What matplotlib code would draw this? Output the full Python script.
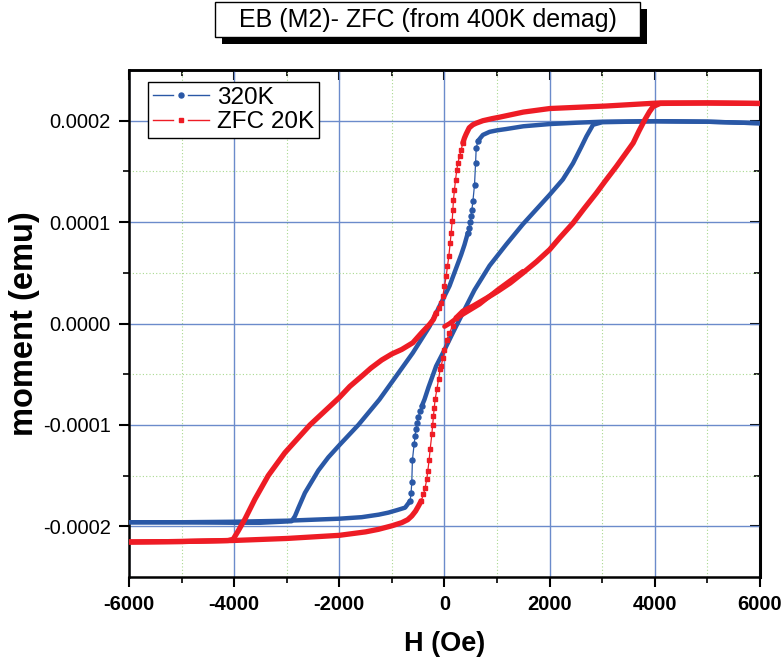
import numpy as np
import matplotlib
matplotlib.use("Agg")
import matplotlib.pyplot as plt
from matplotlib.lines import Line2D
from matplotlib.patches import Rectangle
from matplotlib.legend_handler import HandlerBase

plt.rcParams['font.family'] = ['Liberation Sans', 'DejaVu Sans']
plt.rcParams['axes.unicode_minus'] = False

# moment values below are in units of 1e-4 emu
M_UNIT = 1e-4

# ---- 320K (blue) ----
# descending branch: saturation -> knee
b_top_H = [6000, 5000, 4000, 3000, 2500, 2000, 1500, 1175, 1000, 857, 730, 667, 635]
b_top_M = [1.975, 1.99, 1.995, 1.99, 1.98, 1.967, 1.945, 1.918, 1.905, 1.89, 1.86, 1.82, 1.796]
# steep drop (separate points visible)
b_drop_H = [635, 603, 591, 571, 540, 521, 502, 489, 464, 444]
b_drop_M = [1.796, 1.731, 1.583, 1.369, 1.205, 1.123, 1.057, 0.998, 0.943, 0.894]
# rest of descending branch
b_desc_H = [444, 381, 318, 95, 0, -95, -286, -603, -920, -1238, -1638, -2000,
            -2210, -2400, -2550, -2654, -2780, -2844, -2908, -3500, -4000, -5000, -6000]
b_desc_M = [0.894, 0.778, 0.68, 0.37, 0.27, 0.17, -0.03, -0.29, -0.52, -0.75, -1.00, -1.20,
            -1.32, -1.45, -1.58, -1.67, -1.82, -1.90, -1.95, -1.965, -1.965, -1.96, -1.96]
# ascending branch
b_asc_H = [-6000, -5000, -4000, -3000, -2500, -2000, -1575, -1250, -1067, -900, -749, -654]
b_asc_M = [-1.96, -1.96, -1.955, -1.945, -1.935, -1.925, -1.91, -1.885, -1.865, -1.84, -1.816, -1.75]
b_rise_H = [-654, -635, -622, -610, -578, -559, -546, -521, -495, -464, -432]
b_rise_M = [-1.75, -1.668, -1.563, -1.346, -1.192, -1.11, -1.044, -0.979, -0.919, -0.864, -0.814]
b_asc2_H = [-432, -381, -305, -159, 0, 170, 349, 570, 857, 1175, 1492, 2000, 2250,
            2444, 2600, 2699, 2825, 3000, 4000, 5000, 6000]
b_asc2_M = [-0.814, -0.75, -0.63, -0.42, -0.26, -0.08, 0.105, 0.33, 0.57, 0.78, 0.98, 1.27, 1.42,
            1.58, 1.74, 1.845, 1.96, 1.985, 1.995, 1.99, 1.975]

# ---- ZFC 20K (red) ----
r_virgin_H = [0, 95, 222, 349, 476, 667, 1016, 1492]
r_virgin_M = [-0.03, 0.0, 0.05, 0.09, 0.13, 0.19, 0.335, 0.515]
r_top_H = [6000, 5000, 4100, 3905, 3080, 2000, 1500, 1048, 900, 730, 600, 539, 470, 413, 380, 349]
r_top_M = [2.17, 2.175, 2.175, 2.17, 2.145, 2.12, 2.085, 2.035, 2.02, 2.0, 1.975, 1.96, 1.93,
           1.87, 1.83, 1.78]
r_drop_H = [349, 318, 286, 254, 235, 210, 190, 171, 159, 146, 127, 108, 82, 57, 32, 0, -32, -63, -100, -159]
r_drop_M = [1.78, 1.714, 1.648, 1.583, 1.517, 1.419, 1.32, 1.222, 1.123, 1.008, 0.894, 0.795,
            0.663, 0.565, 0.466, 0.368, 0.27, 0.2, 0.15, 0.105]
r_desc_H = [-159, -210, -286, -432, -603, -813, -1000, -1194, -1400, -1575, -1800, -2000, -2558,
            -3035, -3352, -3606, -3797, -3924, -4019, -4115, -5000, -6000]
r_desc_M = [0.105, 0.04, -0.01, -0.09, -0.19, -0.256, -0.30, -0.36, -0.44, -0.52, -0.62, -0.73,
            -1.0, -1.274, -1.50, -1.733, -1.931, -2.046, -2.128, -2.14, -2.15, -2.155]
r_asc_H = [-6000, -5000, -4019, -3000, -2000, -1500, -1257, -1000, -813, -700, -622, -550, -495, -444]
r_asc_M = [-2.155, -2.15, -2.14, -2.12, -2.089, -2.055, -2.03, -1.995, -1.964, -1.935, -1.898,
           -1.85, -1.80, -1.75]
r_rise_H = [-444, -400, -368, -337, -318, -292, -273, -241, -225, -210, -195, -178, -145, -114,
            -83, -63, -30, 0, 44, 95, 160, 222]
r_rise_M = [-1.75, -1.685, -1.619, -1.537, -1.455, -1.346, -1.241, -1.094, -1.0, -0.913, -0.83,
            -0.749, -0.65, -0.552, -0.453, -0.42, -0.34, -0.26, -0.16, -0.09, -0.02, 0.056]
r_asc2_H = [222, 349, 540, 800, 1016, 1250, 1492, 1750, 2000, 2200, 2444, 2650, 2889, 3050, 3270,
            3450, 3588, 3700, 3810, 3900, 3969, 4100, 5000, 6000]
r_asc2_M = [0.056, 0.121, 0.171, 0.25, 0.319, 0.40, 0.499, 0.61, 0.729, 0.85, 0.99, 1.13, 1.287,
            1.40, 1.55, 1.68, 1.78, 1.90, 2.01, 2.09, 2.14, 2.17, 2.175, 2.17]

x_ticks = [-6000, -4000, -2000, 0, 2000, 4000, 6000]
x_minor = [-5000, -3000, -1000, 1000, 3000, 5000]
y_ticks = [-0.0002, -0.0001, 0.0, 0.0001, 0.0002]
y_labels = ['-0.0002', '-0.0001', '0.0000', '0.0001', '0.0002']
y_minor = [-0.00015, -0.00005, 0.00005, 0.00015]

BLUE = '#2a58a6'
RED = '#ee1c25'


class GapLineHandler(HandlerBase):
    # legend sample drawn as line - marker - line with small gaps
    def create_artists(self, legend, orig, xdescent, ydescent, width, height,
                       fontsize, trans):
        y = height / 2 - ydescent
        x0 = -xdescent
        xm = x0 + width / 2
        gap = 0.14 * width
        c = orig.get_color()
        left = Line2D([x0, xm - gap], [y, y], color=c, lw=1)
        right = Line2D([xm + gap, x0 + width], [y, y], color=c, lw=1)
        mark = Line2D([xm], [y], ls='none', marker=orig.get_marker(),
                      ms=orig.get_markersize(), color=c)
        for a in (left, right, mark):
            a.set_transform(trans)
        return [left, right, mark]


fig = plt.figure(figsize=(7.83, 6.65), dpi=100)
ax = fig.add_axes([129 / 783, 1 - 577 / 665, 631 / 783, 507 / 665])


def band(h, m, color, lw):
    ax.plot(h, np.array(m) * M_UNIT, color=color, lw=lw,
            solid_capstyle='round', solid_joinstyle='round', zorder=3)


def dots(h, m, color, marker, ms):
    ax.plot(h, np.array(m) * M_UNIT, color=color, lw=0.9, marker=marker,
            ms=ms, mec=color, mfc=color, zorder=3)


# 320K
band(b_top_H, b_top_M, BLUE, 3.2)
dots(b_drop_H, b_drop_M, BLUE, 'o', 3.6)
band(b_desc_H, b_desc_M, BLUE, 3.2)
band(b_asc_H, b_asc_M, BLUE, 3.2)
dots(b_rise_H, b_rise_M, BLUE, 'o', 3.6)
band(b_asc2_H, b_asc2_M, BLUE, 3.2)

# ZFC 20K
band(r_virgin_H, r_virgin_M, RED, 3.4)
band(r_top_H, r_top_M, RED, 3.8)
dots(r_drop_H, r_drop_M, RED, 's', 3.2)
band(r_desc_H, r_desc_M, RED, 3.8)
band(r_asc_H, r_asc_M, RED, 3.8)
dots(r_rise_H, r_rise_M, RED, 's', 3.2)
band(r_asc2_H, r_asc2_M, RED, 3.8)

ax.set_xlim(-6000, 6000)
ax.set_ylim(-0.00025, 0.00025)

ax.set_xticks(x_ticks)
ax.set_xticklabels([str(v) for v in x_ticks], fontweight='bold', fontsize=14.5)
ax.set_xticks(x_minor, minor=True)
ax.set_yticks(y_ticks)
ax.set_yticklabels(y_labels, fontsize=14.5)
ax.set_yticks(y_minor, minor=True)

ax.set_axisbelow(True)
ax.grid(which='major', color='#6b8bcb', lw=1.0)
ax.grid(which='minor', color='#a9d98f', lw=0.8, ls=(0, (1, 2)))

for s in ax.spines.values():
    s.set_linewidth(1.8)
ax.tick_params(which='major', direction='out', length=7, width=1.5, pad=6,
               top=False, right=False)
ax.tick_params(which='minor', direction='out', length=4, width=1.2,
               top=False, right=False)

# inward ticks on top and right
secx = ax.secondary_xaxis('top')
secx.set_xticks(x_ticks)
secx.set_xticks(x_minor, minor=True)
secx.tick_params(which='major', direction='in', length=7, width=1.5, labeltop=False)
secx.tick_params(which='minor', direction='in', length=4, width=1.2)
secx.spines['top'].set_linewidth(1.8)
secy = ax.secondary_yaxis('right')
secy.set_yticks(y_ticks)
secy.set_yticks(y_minor, minor=True)
secy.tick_params(which='major', direction='in', length=7, width=1.5, labelright=False)
secy.tick_params(which='minor', direction='in', length=4, width=1.2)
secy.spines['right'].set_linewidth(2.2)

ax.set_xlabel('H (Oe)', fontsize=19.5, fontweight='bold', labelpad=12)
ax.set_ylabel('moment (emu)', fontsize=23.5, fontweight='bold', labelpad=2)

h1 = Line2D([], [], color=BLUE, marker='o', ms=3.6)
h2 = Line2D([], [], color=RED, marker='s', ms=3.2)
leg = ax.legend(handles=[h1, h2], labels=['320K', 'ZFC 20K'], loc='upper left',
                bbox_to_anchor=(19 / 631, 1 - 12 / 507), borderaxespad=0,
                fancybox=False, edgecolor='black', framealpha=1, fontsize=17.5,
                handlelength=2.29, handletextpad=0.35, borderpad=0.2,
                labelspacing=0.1, handler_map={h1: GapLineHandler(), h2: GapLineHandler()})
leg.get_frame().set_linewidth(1.0)

# title box with shadow
fig.patches.append(Rectangle((222 / 783, 1 - 44 / 665), 425 / 783, 35 / 665,
                             transform=fig.transFigure, facecolor='black',
                             edgecolor='none', zorder=1))
fig.patches.append(Rectangle((215 / 783, 1 - 37 / 665), 425 / 783, 35 / 665,
                             transform=fig.transFigure, facecolor='white',
                             edgecolor='black', lw=1, zorder=2))
fig.text(427.5 / 783, 1 - 19.5 / 665, 'EB (M2)- ZFC (from 400K demag)',
         ha='center', va='center', fontsize=18, zorder=3)

fig.savefig('out.png', dpi=100)
